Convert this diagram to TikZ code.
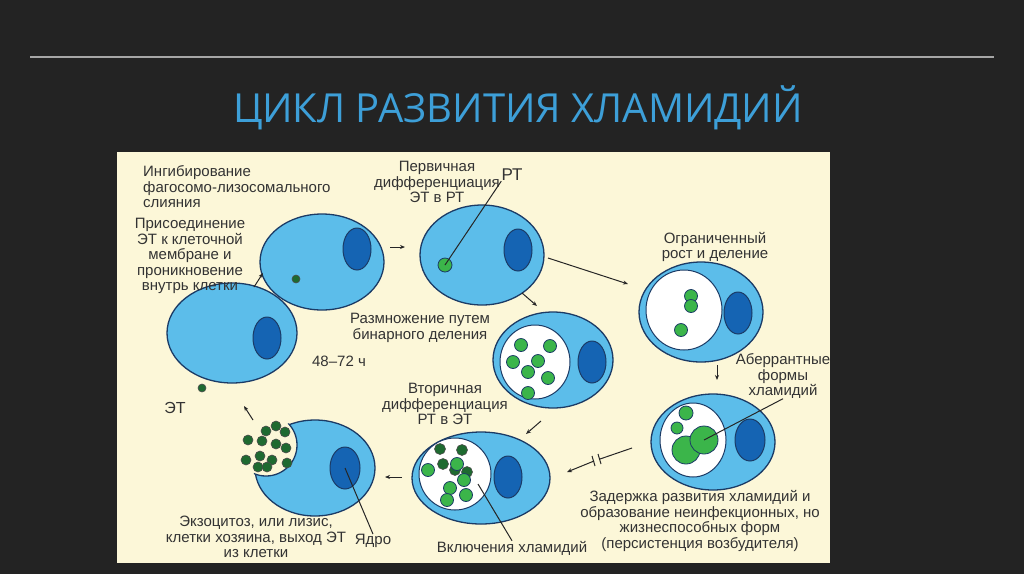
\documentclass[tikz,border=0pt]{standalone}
\usepackage{fontspec}
\setmainfont{Liberation Sans}
\newfontfamily\titlefont{Open Sans}
\usetikzlibrary{shapes.geometric,arrows.meta}
\definecolor{bg}{HTML}{232323}
\definecolor{cream}{HTML}{FCF7D8}
\definecolor{cellb}{HTML}{5CBDEA}
\definecolor{edge}{HTML}{1B3B66}
\definecolor{nuc}{HTML}{1564B3}
\definecolor{lg}{HTML}{3BB54A}
\definecolor{dg}{HTML}{1E6A30}
\definecolor{ttl}{HTML}{3D9FD8}
\tikzset{
 cell/.style={ellipse,draw=edge,line width=1.3pt,fill=cellb,inner sep=0},
 vac/.style={ellipse,draw=edge,line width=1pt,fill=white,inner sep=0},
 nucl/.style={ellipse,draw=edge,line width=1pt,fill=nuc,inner sep=0,minimum width=28pt,minimum height=42pt},
 lgd/.style={circle,draw=edge,line width=0.8pt,fill=lg,inner sep=0},
 dgd/.style={circle,draw=black!70,line width=0.6pt,fill=dg,inner sep=0,minimum size=11pt},
 lbl/.style={font=\fontsize{15}{15.5}\selectfont,text=black!80,align=center,inner sep=0},
 arr/.style={-{Stealth[length=5pt,width=4pt]},line width=1pt,black!85},
 ptr/.style={line width=1pt,black!85}
}
\begin{document}
\begin{tikzpicture}[x=1pt,y=-1pt]
\fill[bg] (0,0) rectangle (1024,574);
\useasboundingbox (0,0) rectangle (1024,574);
\draw[gray!70,line width=1.5pt] (30,57) -- (994,57);
\node[text=ttl,font=\titlefont\fontsize{40}{46}\selectfont] (title) at (518,108) {ЦИКЛ РАЗВИТИЯ ХЛАМИДИЙ};
\fill[cream] (117,152) rectangle (830,563);
% cell 1
\node[cell,minimum width=124pt,minimum height=96pt] (c1) at (322,262) {};
\node[nucl] (n1) at (357,249) {};
\node[dgd,minimum size=8pt] (e1) at (296,279) {};
% cell 2
\node[cell,minimum width=124pt,minimum height=100pt] (c2) at (482,255) {};
\node[nucl] (n2) at (518,250) {};
\node[lgd,minimum size=14pt] (rt) at (445,265) {};
% cell 3
\node[cell,minimum width=130pt,minimum height=100pt] (c3) at (232,333) {};
\node[nucl] (n3) at (267,338) {};
\node[dgd,minimum size=8pt] (e3) at (202,388) {};
% cell 4 binary
\node[cell,minimum width=120pt,minimum height=96pt] (c4) at (553,360) {};
\node[vac,minimum width=70pt,minimum height=74pt] (v4) at (535,362) {};
\node[nucl] (n4) at (592,362) {};
\foreach \p in {(521,345),(550,346),(513,362),(538,361),(528,372),(548,378),(528,393)} \node[lgd,minimum size=13pt] at \p {};
% cell 5 limited
\node[cell,minimum width=124pt,minimum height=100pt] (c5) at (701,312) {};
\node[vac,minimum width=76pt,minimum height=80pt] (v5) at (684,310) {};
\node[nucl] (n5) at (738,313) {};
\node[lgd,minimum size=13pt] at (691,296) {};
\node[lgd,minimum size=13pt] at (691,306) {};
\node[lgd,minimum size=13pt] at (681,330) {};
% cell 6 aberrant
\node[cell,minimum width=124pt,minimum height=96pt] (c6) at (713,442) {};
\node[vac,minimum width=66pt,minimum height=74pt] (v6) at (693,440) {};
\node[nucl,minimum width=30pt] (n6) at (750,440) {};
\node[lgd,minimum size=14pt] at (686,413) {};
\node[lgd,minimum size=12pt] at (677,428) {};
\node[lgd,minimum size=28pt] (ab1) at (686,450) {};
\node[lgd,minimum size=28pt] (ab2) at (704,440) {};
% cell 7 secondary
\node[cell,minimum width=138pt,minimum height=92pt] (c7) at (481,478) {};
\node[vac,minimum width=72pt,minimum height=72pt] (v7) at (455,474) {};
\node[nucl] (n7) at (508,477) {};
\foreach \p in {(440,449),(462,450),(443,464),(455,470),(467,472)} \node[dgd] at \p {};
\foreach \p in {(428,470),(457,464),(464,480),(450,488),(466,495),(447,500)} \node[lgd,minimum size=13pt] at \p {};
% cell 8 exocytosis
\node[cell,minimum width=120pt,minimum height=96pt] (c8) at (315,468) {};
\begin{scope}
\clip (315,468) ellipse [x radius=61.5, y radius=49.5];
\fill[cream] (266,445) circle (31);
\draw[edge,line width=1.3pt] (266,445) circle (31);
\end{scope}
\node[nucl,minimum width=30pt] (n8) at (345,468) {};
\foreach \p in {(276,426),(266,431),(285,432),(248,440),(262,441),(276,444),(286,448),(260,456),(246,460),(272,460),(287,463),(258,467),(267,467)} \node[dgd,minimum size=10pt] at \p {};
% labels
\node[lbl,align=left,anchor=west] (t1) at (143,187) {Ингибирование\\фагосомо-лизосомального\\слияния};
\node[lbl] (t2) at (190,256) {Присоединение\\ЭТ к клеточной\\мембране и\\проникновение\\внутрь клетки};
\node[lbl] (t3) at (437,182) {Первичная\\дифференциация\\ЭТ в РТ};
\node[lbl,font=\fontsize{17}{18}\selectfont] (trt) at (512,175) {РТ};
\node[lbl] (t4) at (420,328) {Размножение путем\\бинарного деления};
\node[lbl] (t5) at (339,361) {48–72 ч};
\node[lbl] (t6) at (715,247) {Ограниченный\\рост и деление};
\node[lbl] (t7) at (783,376) {Аберрантные\\формы\\хламидий};
\node[lbl,font=\fontsize{16}{17}\selectfont] (tet) at (175,408) {ЭТ};
\node[lbl] (t8) at (445,404) {Вторичная\\дифференциация\\РТ в ЭТ};
\node[lbl] (t9) at (700,521) {Задержка развития хламидий и\\образование неинфекционных, но\\жизнеспособных форм\\(персистенция возбудителя)};
\node[lbl] (t10) at (256,537) {Экзоцитоз, или лизис,\\клетки хозяина, выход ЭТ\\из клетки};
\node[lbl] (tyd) at (373,541) {Ядро};
\node[lbl] (tinc) at (512,548) {Включения хламидий};
% pointers
\draw[ptr] (rt.center) -- (trt.south west);
\draw[ptr] (ab2.center) -- (t7.south);
\draw[ptr] (n8.center) -- (tyd.north);
\coordinate (incp) at (478,484);
\draw[ptr] (incp) -- (tinc.north);
% arrows
\coordinate (a1s) at (390,247); \coordinate (a1e) at (405,247);
\draw[arr] (a1s) -- (a1e);
\coordinate (a2s) at (548,258); \coordinate (a2e) at (628,284);
\draw[arr] (a2s) -- (a2e);
\coordinate (a3s) at (522,293); \coordinate (a3e) at (537,306);
\draw[arr] (a3s) -- (a3e);
\coordinate (a4s) at (717,365); \coordinate (a4e) at (717,380);
\draw[arr] (a4s) -- (a4e);
\coordinate (a5s) at (541,421); \coordinate (a5e) at (526,434);
\draw[arr] (a5s) -- (a5e);
\coordinate (a6s) at (402,477); \coordinate (a6e) at (385,477);
\draw[arr] (a6s) -- (a6e);
\coordinate (a7s) at (253,420); \coordinate (a7e) at (244,406);
\draw[arr] (a7s) -- (a7e);
\coordinate (a8s) at (254,287); \coordinate (a8e) at (263,273);
\draw[arr] (a8s) -- (a8e);
\coordinate (a9s) at (632,448); \coordinate (a9m) at (600,459); \coordinate (a9n) at (594,461); \coordinate (a9e) at (567,472);
\draw[ptr] (a9s) -- (a9m);
\draw[arr] (a9n) -- (a9e);
\draw[ptr] (598,454) -- (601,464);
\draw[ptr] (592,456) -- (595,466);
\end{tikzpicture}
\end{document}
